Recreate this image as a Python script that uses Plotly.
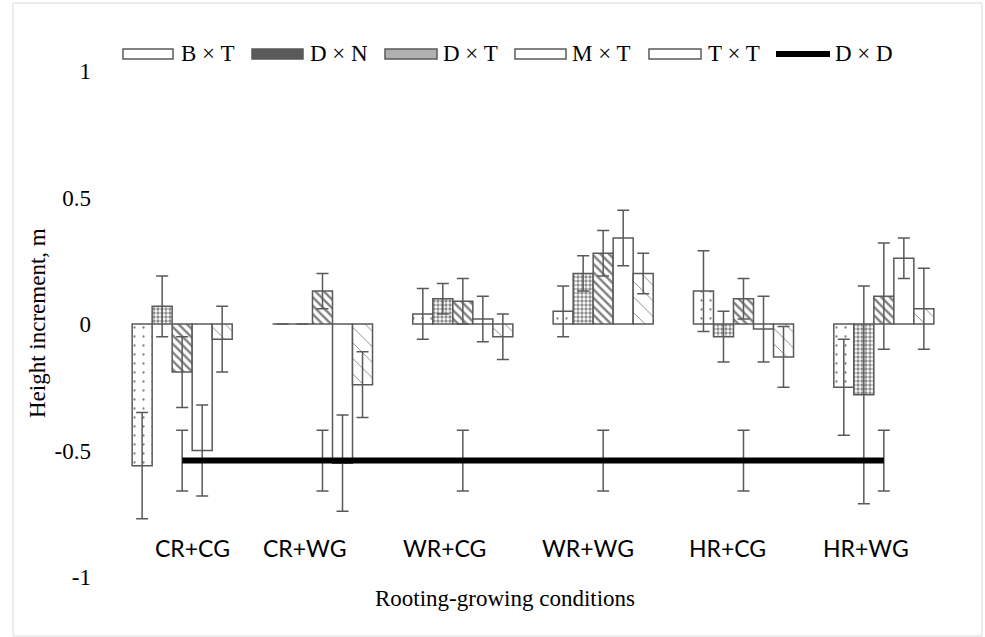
import plotly.graph_objects as go

categories = ["CR+CG", "CR+WG", "WR+CG", "WR+WG", "HR+CG", "HR+WG"]

bxt = [-0.56, 0.00, 0.04, 0.05, 0.13, -0.25]
bxt_err = [0.21, 0.00, 0.10, 0.10, 0.16, 0.19]
dxn = [0.07, 0.00, 0.10, 0.20, -0.05, -0.28]
dxn_err = [0.12, 0.00, 0.06, 0.07, 0.10, 0.43]
dxt = [-0.19, 0.13, 0.09, 0.28, 0.10, 0.11]
dxt_err = [0.14, 0.07, 0.09, 0.09, 0.08, 0.21]
mxt = [-0.50, -0.55, 0.02, 0.34, -0.02, 0.26]
mxt_err = [0.18, 0.19, 0.09, 0.11, 0.13, 0.08]
txt = [-0.06, -0.24, -0.05, 0.20, -0.13, 0.06]
txt_err = [0.13, 0.13, 0.09, 0.08, 0.12, 0.16]
dxd = [-0.54, -0.54, -0.54, -0.54, -0.54, -0.54]
dxd_err = [0.12, 0.12, 0.12, 0.12, 0.12, 0.12]

series_names = ["B × T", "D × N", "D × T", "M × T", "T × T", "D × D"]
y_ticks = [-1, -0.5, 0, 0.5, 1]
y_ticktext = ["-1", "-0.5", "0", "0.5", "1"]

W, H = 985, 637
ML, MR, MT, MB = 112, 31, 71, 60
PW = W - ML - MR
PH = H - MT - MB


def px(x):
    return (x - ML) / PW


def py(y):
    return (H - MB - y) / PH


GRAY = "#595959"
SERIF = "Liberation Serif"


def eb(arr):
    return dict(type="data", array=arr, visible=True, color=GRAY, thickness=1.5, width=6)


patterns = [
    dict(shape=".", size=9, solidity=0.05, fgcolor="black", bgcolor="white"),
    dict(shape=".", size=4, solidity=0.55, fgcolor="#1a1a1a", bgcolor="white"),
    dict(shape="\\", size=6, solidity=0.4, fgcolor="black", bgcolor="white"),
    dict(shape="", fgcolor="black", bgcolor="white"),
    dict(shape="\\", size=11, solidity=0.08, fgcolor="black", bgcolor="white"),
]

bar_data = [(bxt, bxt_err), (dxn, dxn_err), (dxt, dxt_err), (mxt, mxt_err), (txt, txt_err)]

fig = go.Figure()
for i, (vals, errs) in enumerate(bar_data):
    fig.add_trace(go.Bar(
        x=categories, y=vals, name=series_names[i],
        marker=dict(color="white", line=dict(color=GRAY, width=1.5), pattern=patterns[i]),
        error_y=eb(errs), showlegend=False,
    ))

fig.add_trace(go.Scatter(
    x=categories, y=dxd, name=series_names[5], mode="lines",
    line=dict(color="black", width=6), error_y=eb(dxd_err), showlegend=False,
))

annotations = []
label_px = [192, 305, 445, 588, 727, 866]
centres = [ML + PW * (i + 0.5) / len(categories) for i in range(len(categories))]
for cat, lx, cx in zip(categories, label_px, centres):
    annotations.append(dict(
        x=cat, xref="x", y=py(548), yref="paper", text=cat, showarrow=False,
        xshift=lx - cx, xanchor="center", yanchor="middle",
        font=dict(family="Lato", size=23, color="black"),
    ))

annotations.append(dict(
    x=px(505), y=py(598), xref="paper", yref="paper", text="Rooting-growing conditions",
    showarrow=False, xanchor="center", yanchor="middle",
    font=dict(family=SERIF, size=23, color="black"),
))
annotations.append(dict(
    x=px(37), y=py(323), xref="paper", yref="paper", text="Height increment, m",
    showarrow=False, textangle=-90, xanchor="center", yanchor="middle",
    font=dict(family=SERIF, size=23, color="black"),
))

shapes = [dict(type="rect", xref="paper", yref="paper",
               x0=px(13), x1=px(982), y0=py(636), y1=py(3),
               line=dict(color="#d9d9d9", width=1), fillcolor="rgba(0,0,0,0)", layer="below")]

legend_fills = ["white", "#5a5a5a", "#b0b0b0", "white", "white"]
legend_sw = [(123, 173), (252, 303), (385, 437), (515, 566), (649, 701)]
legend_tx = [179, 308, 441, 570, 706, 833]
LY = 54
for i, (x0, x1) in enumerate(legend_sw):
    shapes.append(dict(type="rect", xref="paper", yref="paper",
                       x0=px(x0), x1=px(x1), y0=py(LY + 5), y1=py(LY - 5),
                       line=dict(color=GRAY, width=1.5), fillcolor=legend_fills[i]))
shapes.append(dict(type="line", xref="paper", yref="paper",
                   x0=px(776), x1=px(830), y0=py(LY), y1=py(LY),
                   line=dict(color="black", width=6)))
for i, tx in enumerate(legend_tx):
    annotations.append(dict(
        x=px(tx), y=py(LY), xref="paper", yref="paper", text=series_names[i],
        showarrow=False, xanchor="left", yanchor="middle",
        font=dict(family=SERIF, size=23, color="black"),
    ))

fig.update_layout(
    width=W, height=H, autosize=False,
    margin=dict(l=ML, r=MR, t=MT, b=MB, pad=0),
    paper_bgcolor="white", plot_bgcolor="white",
    barmode="group", bargap=0.287, bargroupgap=0,
    showlegend=False,
    xaxis=dict(type="category", showticklabels=False, showgrid=False, zeroline=False,
               showline=False, ticks="", range=[-0.5, 5.5]),
    yaxis=dict(range=[-1, 1], tickvals=y_ticks, ticktext=y_ticktext, showgrid=False,
               zeroline=False, showline=False, ticks="", ticklabelstandoff=20,
               tickfont=dict(family=SERIF, size=23, color="black")),
    annotations=annotations, shapes=shapes,
)

fig.write_html("out.html")
